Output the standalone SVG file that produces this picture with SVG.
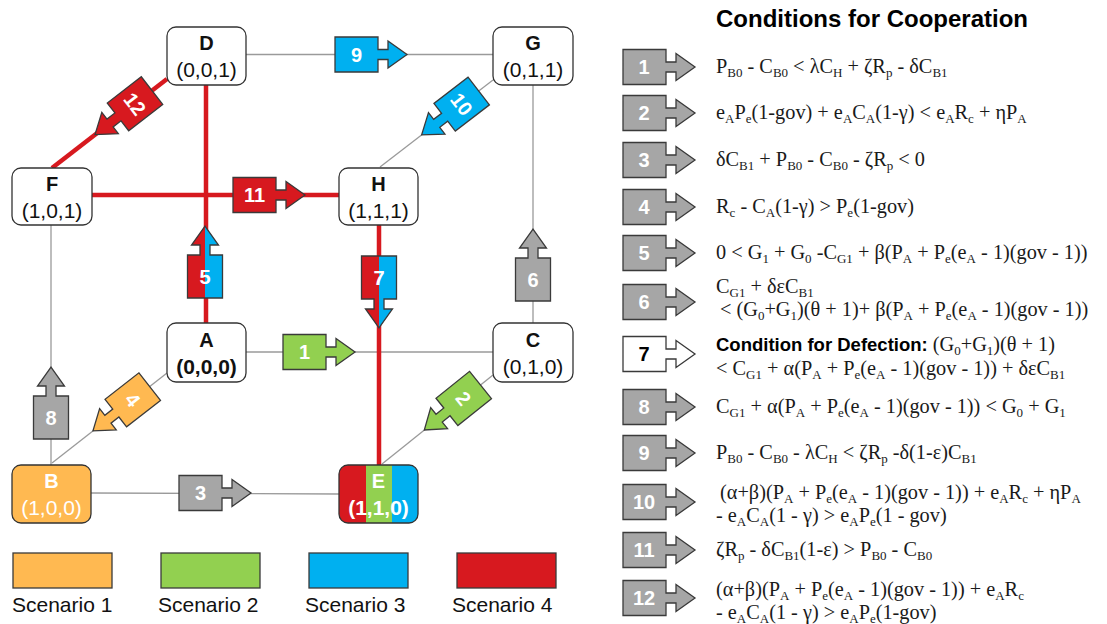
<svg xmlns="http://www.w3.org/2000/svg" xmlns:xlink="http://www.w3.org/1999/xlink" width="1107" height="624" viewBox="0 0 1107 624">
  <style>
    .bg{fill:#ffffff}
    .box{fill:#ffffff;stroke:#333333;stroke-width:1.3}
    .lt{font-family:"Liberation Sans",Arial,sans-serif;font-size:20px;font-weight:bold;fill:#111111;text-anchor:middle}
    .co{font-family:"Liberation Sans",Arial,sans-serif;font-size:21px;fill:#111111;text-anchor:middle}
    .wh{fill:#ffffff}
    .thin{stroke:#9a9a9a;stroke-width:1.3;fill:none}
    .rl{stroke:#d7191f;stroke-width:4.5;fill:none}
    .ar{stroke:#3a3a3a;stroke-width:1.3;stroke-linejoin:miter}
    .red{fill:#d7191f}
    .blue{fill:#00b0f0}
    .green{fill:#92d050}
    .orange{fill:#ffb951}
    .gray{fill:#a6a6a6}
    .num{font-family:"Liberation Sans",Arial,sans-serif;font-size:20px;font-weight:bold;fill:#ffffff;text-anchor:middle}
    .title{font-family:"Liberation Sans",Arial,sans-serif;font-size:24px;font-weight:bold;fill:#000000}
    .f{font-family:"Liberation Serif","Times New Roman",serif;font-size:20.3px;fill:#1a1a1a}
    .s{font-size:13px;baseline-shift:-4px}
    .bd{font-family:"Liberation Sans",Arial,sans-serif;font-weight:bold;font-size:18.5px;fill:#000000}
    .leg{font-family:"Liberation Sans",Arial,sans-serif;font-size:21px;fill:#111111}
  </style>
  <defs>
    <!-- block arrow: box, neck and head, pointing along +x, back edge at x=0 -->
    <path id="arw" d="M0,-17.5 H43 V-5 H53 V-13.5 L72,0 L53,13.5 V5 H43 V17.5 H0 Z"/>
    <clipPath id="halfPos" clipPathUnits="userSpaceOnUse"><rect x="-5" y="0" width="85" height="25"/></clipPath>
    <clipPath id="halfNeg" clipPathUnits="userSpaceOnUse"><rect x="-5" y="-25" width="85" height="25"/></clipPath>
    <clipPath id="clipE"><rect x="339" y="465" width="79" height="58" rx="9"/></clipPath>
  </defs>

  <rect class="bg" x="0" y="0" width="1107" height="624"/>

  <!-- cube edges -->
  <g id="connectors">
    <line class="thin" x1="246" y1="54.5" x2="493" y2="54.5"/>
    <line class="thin" x1="493" y1="80" x2="380" y2="167"/>
    <line class="thin" x1="533" y1="85" x2="533" y2="323"/>
    <line class="thin" x1="51" y1="225" x2="51" y2="465"/>
    <line class="thin" x1="246" y1="352" x2="493" y2="352"/>
    <line class="thin" x1="167" y1="373" x2="52" y2="463"/>
    <line class="thin" x1="493" y1="375" x2="382" y2="464"/>
    <line class="thin" x1="91" y1="493" x2="339" y2="494"/>
    <line class="rl" x1="167" y1="79" x2="52" y2="168"/>
    <line class="rl" x1="92" y1="195" x2="339" y2="195"/>
    <line class="rl" x1="206" y1="85" x2="206" y2="323"/>
    <line class="rl" x1="379" y1="225" x2="379" y2="465"/>

    <!-- transition arrows -->
    <g id="arrow-9" transform="translate(335,54.5)"><use xlink:href="#arw" class="blue ar"/></g>
    <text class="num" x="356.5" y="54.5" dy="0.36em">9</text>

    <g id="arrow-11" transform="translate(233,195)"><use xlink:href="#arw" class="red ar"/></g>
    <text class="num" x="254.5" y="195" dy="0.36em">11</text>

    <g id="arrow-1" transform="translate(283,352)"><use xlink:href="#arw" class="green ar"/></g>
    <text class="num" x="304.5" y="352" dy="0.36em">1</text>

    <g id="arrow-3" transform="translate(179,493)"><use xlink:href="#arw" class="gray ar"/></g>
    <text class="num" x="200.5" y="493" dy="0.36em">3</text>

    <g id="arrow-5" transform="translate(205,298) rotate(-90)">
      <use xlink:href="#arw" class="red"/>
      <use xlink:href="#arw" class="blue" clip-path="url(#halfPos)"/>
      <use xlink:href="#arw" class="ar" fill="none"/>
    </g>
    <text class="num" x="205" y="276.5" dy="0.36em">5</text>

    <g id="arrow-7" transform="translate(379,256) rotate(90)">
      <use xlink:href="#arw" class="red"/>
      <use xlink:href="#arw" class="blue" clip-path="url(#halfNeg)"/>
      <use xlink:href="#arw" class="ar" fill="none"/>
    </g>
    <text class="num" x="379" y="277.5" dy="0.36em">7</text>

    <g id="arrow-6" transform="translate(533,301) rotate(-90)"><use xlink:href="#arw" class="gray ar"/></g>
    <text class="num" x="533" y="279.5" dy="0.36em">6</text>

    <g id="arrow-8" transform="translate(51,439) rotate(-90)"><use xlink:href="#arw" class="gray ar"/></g>
    <text class="num" x="51" y="417.5" dy="0.36em">8</text>

    <g id="arrow-12" transform="translate(152,90.6) rotate(142.3)"><use xlink:href="#arw" class="red ar"/></g>
    <text class="num" transform="translate(135,103.8) rotate(52.3)" dy="0.36em">12</text>

    <g id="arrow-10" transform="translate(478.7,91) rotate(142.4)"><use xlink:href="#arw" class="blue ar"/></g>
    <text class="num" transform="translate(461.7,104.1) rotate(52.4)" dy="0.36em">10</text>

    <g id="arrow-4" transform="translate(149.7,386.6) rotate(142)"><use xlink:href="#arw" class="orange ar"/></g>
    <text class="num" transform="translate(132.8,399.8) rotate(52)" dy="0.36em">4</text>

    <g id="arrow-2" transform="translate(480.5,385) rotate(141.3)"><use xlink:href="#arw" class="green ar"/></g>
    <text class="num" transform="translate(463.7,398.4) rotate(51.3)" dy="0.36em">2</text>
  </g>

  <!-- states -->
  <g id="node-D">
    <rect class="box" x="167" y="27" width="79" height="58" rx="9"/>
    <text class="lt" x="206.5" y="50">D</text>
    <text class="co" x="206.5" y="77">(0,0,1)</text>
  </g>
  <g id="node-G">
    <rect class="box" x="493" y="27" width="80" height="58" rx="9"/>
    <text class="lt" x="533" y="50">G</text>
    <text class="co" x="533" y="77">(0,1,1)</text>
  </g>
  <g id="node-F">
    <rect class="box" x="12" y="168" width="80" height="57" rx="9"/>
    <text class="lt" x="52" y="191">F</text>
    <text class="co" x="52" y="218">(1,0,1)</text>
  </g>
  <g id="node-H">
    <rect class="box" x="339" y="168" width="79" height="57" rx="9"/>
    <text class="lt" x="378.5" y="191">H</text>
    <text class="co" x="378.5" y="218">(1,1,1)</text>
  </g>
  <g id="node-A">
    <rect class="box" x="167" y="323" width="79" height="59" rx="9"/>
    <text class="lt" x="206.5" y="347">A</text>
    <text class="co" x="206.5" y="374" font-weight="bold">(0,0,0)</text>
  </g>
  <g id="node-C">
    <rect class="box" x="493" y="323" width="80" height="59" rx="9"/>
    <text class="lt" x="533" y="347">C</text>
    <text class="co" x="533" y="374">(0,1,0)</text>
  </g>
  <g id="node-B">
    <rect class="box" x="12" y="465" width="79" height="58" rx="9" style="fill:#ffb951"/>
    <text class="lt wh" x="51.5" y="488">B</text>
    <text class="co wh" x="51.5" y="515">(1,0,0)</text>
  </g>
  <g id="node-E">
    <g clip-path="url(#clipE)">
      <rect class="red" x="339" y="465" width="27" height="58"/>
      <rect class="green" x="366" y="465" width="26" height="58"/>
      <rect class="blue" x="392" y="465" width="26" height="58"/>
    </g>
    <rect class="box" x="339" y="465" width="79" height="58" rx="9" style="fill:none"/>
    <text class="lt wh" x="378.5" y="488">E</text>
    <text class="co wh" x="378.5" y="515" font-weight="bold">(1,1,0)</text>
  </g>

  <!-- scenario legend -->
  <g id="legend">
    <rect class="orange ar" x="13" y="553" width="99" height="35"/>
    <rect class="green ar" x="161" y="553" width="99" height="35"/>
    <rect class="blue ar" x="309" y="553" width="99" height="35"/>
    <rect class="red ar" x="457" y="553" width="99" height="35"/>
    <text class="leg" x="12" y="612">Scenario 1</text>
    <text class="leg" x="158" y="612">Scenario 2</text>
    <text class="leg" x="305" y="612">Scenario 3</text>
    <text class="leg" x="452" y="612">Scenario 4</text>
  </g>

  <!-- condition list -->
  <g id="conditions">
    <text class="title" x="716" y="27">Conditions for Cooperation</text>

    <g id="cond-1">
      <use xlink:href="#arw" class="gray ar" transform="translate(623,67)"/>
      <text class="num" x="644" y="67" dy="0.36em">1</text>
      <text class="f" x="716" y="73">P<tspan class="s">B0</tspan> - C<tspan class="s">B0</tspan> &lt;  λC<tspan class="s">H</tspan> + ζR<tspan class="s">p</tspan> - δC<tspan class="s">B1</tspan></text>
    </g>
    <g id="cond-2">
      <use xlink:href="#arw" class="gray ar" transform="translate(623,113)"/>
      <text class="num" x="644" y="113" dy="0.36em">2</text>
      <text class="f" x="716" y="119">e<tspan class="s">A</tspan>P<tspan class="s">e</tspan>(1-gov) + e<tspan class="s">A</tspan>C<tspan class="s">A</tspan>(1-γ) &lt; e<tspan class="s">A</tspan>R<tspan class="s">c</tspan> + ηP<tspan class="s">A</tspan></text>
    </g>
    <g id="cond-3">
      <use xlink:href="#arw" class="gray ar" transform="translate(623,160)"/>
      <text class="num" x="644" y="160" dy="0.36em">3</text>
      <text class="f" x="716" y="166">δC<tspan class="s">B1</tspan> + P<tspan class="s">B0</tspan> - C<tspan class="s">B0</tspan> - ζR<tspan class="s">p</tspan> &lt; 0</text>
    </g>
    <g id="cond-4">
      <use xlink:href="#arw" class="gray ar" transform="translate(623,207)"/>
      <text class="num" x="644" y="207" dy="0.36em">4</text>
      <text class="f" x="716" y="213">R<tspan class="s">c</tspan> - C<tspan class="s">A</tspan>(1-γ) &gt; P<tspan class="s">e</tspan>(1-gov)</text>
    </g>
    <g id="cond-5">
      <use xlink:href="#arw" class="gray ar" transform="translate(623,253)"/>
      <text class="num" x="644" y="253" dy="0.36em">5</text>
      <text class="f" x="716" y="259">0 &lt; G<tspan class="s">1</tspan> + G<tspan class="s">0</tspan> -C<tspan class="s">G1</tspan> + β(P<tspan class="s">A</tspan> + P<tspan class="s">e</tspan>(e<tspan class="s">A</tspan> - 1)(gov - 1))</text>
    </g>
    <g id="cond-6">
      <use xlink:href="#arw" class="gray ar" transform="translate(623,302)"/>
      <text class="num" x="644" y="302" dy="0.36em">6</text>
      <text class="f" x="716" y="293">C<tspan class="s">G1</tspan> + δεC<tspan class="s">B1</tspan></text>
      <text class="f" x="720" y="316">&lt; (G<tspan class="s">0</tspan>+G<tspan class="s">1</tspan>)(θ + 1)+ β(P<tspan class="s">A</tspan> + P<tspan class="s">e</tspan>(e<tspan class="s">A</tspan> - 1)(gov - 1))</text>
    </g>
    <g id="cond-7">
      <use xlink:href="#arw" class="ar" fill="#ffffff" transform="translate(623,354)"/>
      <text class="num" x="644" y="354" dy="0.36em" style="fill:#000000">7</text>
      <text class="f" x="716" y="351"><tspan class="bd">Condition for Defection:</tspan> (G<tspan class="s">0</tspan>+G<tspan class="s">1</tspan>)(θ + 1)</text>
      <text class="f" x="716" y="375">&lt; C<tspan class="s">G1</tspan> + α(P<tspan class="s">A</tspan> + P<tspan class="s">e</tspan>(e<tspan class="s">A</tspan> - 1)(gov - 1)) + δεC<tspan class="s">B1</tspan></text>
    </g>
    <g id="cond-8">
      <use xlink:href="#arw" class="gray ar" transform="translate(623,407)"/>
      <text class="num" x="644" y="407" dy="0.36em">8</text>
      <text class="f" x="716" y="413">C<tspan class="s">G1</tspan> + α(P<tspan class="s">A</tspan> + P<tspan class="s">e</tspan>(e<tspan class="s">A</tspan> - 1)(gov - 1)) &lt; G<tspan class="s">0</tspan> + G<tspan class="s">1</tspan></text>
    </g>
    <g id="cond-9">
      <use xlink:href="#arw" class="gray ar" transform="translate(623,453)"/>
      <text class="num" x="644" y="453" dy="0.36em">9</text>
      <text class="f" x="716" y="459">P<tspan class="s">B0</tspan> - C<tspan class="s">B0</tspan> - λC<tspan class="s">H</tspan> &lt; ζR<tspan class="s">p</tspan> -δ(1-ε)C<tspan class="s">B1</tspan></text>
    </g>
    <g id="cond-10">
      <use xlink:href="#arw" class="gray ar" transform="translate(623,502)"/>
      <text class="num" x="644" y="502" dy="0.36em">10</text>
      <text class="f" x="720" y="499">(α+β)(P<tspan class="s">A</tspan> + P<tspan class="s">e</tspan>(e<tspan class="s">A</tspan> - 1)(gov - 1)) + e<tspan class="s">A</tspan>R<tspan class="s">c</tspan> + ηP<tspan class="s">A</tspan></text>
      <text class="f" x="716" y="522">-  e<tspan class="s">A</tspan>C<tspan class="s">A</tspan>(1 - γ) &gt;  e<tspan class="s">A</tspan>P<tspan class="s">e</tspan>(1 - gov)</text>
    </g>
    <g id="cond-11">
      <use xlink:href="#arw" class="gray ar" transform="translate(623,550)"/>
      <text class="num" x="644" y="550" dy="0.36em">11</text>
      <text class="f" x="716" y="556">ζR<tspan class="s">p</tspan> - δC<tspan class="s">B1</tspan>(1-ε) &gt; P<tspan class="s">B0</tspan> - C<tspan class="s">B0</tspan></text>
    </g>
    <g id="cond-12">
      <use xlink:href="#arw" class="gray ar" transform="translate(623,598)"/>
      <text class="num" x="644" y="598" dy="0.36em">12</text>
      <text class="f" x="716" y="596">(α+β)(P<tspan class="s">A</tspan> + P<tspan class="s">e</tspan>(e<tspan class="s">A</tspan> - 1)(gov - 1))  + e<tspan class="s">A</tspan>R<tspan class="s">c</tspan></text>
      <text class="f" x="716" y="619">- e<tspan class="s">A</tspan>C<tspan class="s">A</tspan>(1 - γ) &gt; e<tspan class="s">A</tspan>P<tspan class="s">e</tspan>(1-gov)</text>
    </g>
  </g>
</svg>
